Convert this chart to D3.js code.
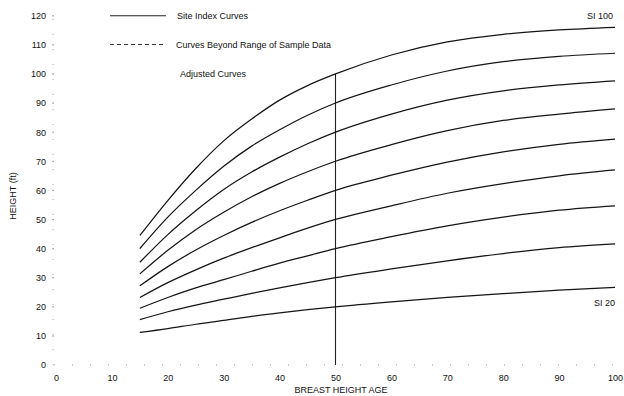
<!DOCTYPE html>
<html>
<head>
<meta charset="utf-8">
<script src="https://cdn.jsdelivr.net/npm/d3@7/dist/d3.min.js"></script>
<style>
  html, body { margin: 0; padding: 0; background: #fff; }
  svg { display: block; }
  text { font-family: "Liberation Sans", Arial, sans-serif; font-size: 9px; fill: #111; }
</style>
</head>
<body>
<svg id="chart" width="624" height="396"></svg>
<script>
// Breast height age (years) at which heights are tabulated
const ages = [15, 20, 25, 30, 35, 40, 45, 50, 60, 70, 80, 90, 100];

// Site index classes (height at breast height age 50)
const siteIndex = [100, 90, 80, 70, 60, 50, 40, 30, 20];

// Height (ft) for each site index curve, one value per age above
const si100 = [44.5, 56.5, 67.5, 77.0, 84.5, 91.0, 96.0, 100, 106.5, 111.0, 113.6, 115.1, 116.0];
const si90  = [40.0, 50.8, 60.0, 68.3, 75.2, 80.8, 85.8, 90, 96.2, 101.0, 104.2, 106.0, 107.1];
const si80  = [35.3, 44.8, 53.0, 60.3, 66.3, 71.4, 76.0, 80, 86.2, 91.0, 94.2, 96.2, 97.6];
const si70  = [31.3, 39.4, 46.5, 52.5, 57.8, 62.4, 66.4, 70, 75.7, 80.5, 84.0, 86.2, 88.0];
const si60  = [27.2, 33.8, 39.5, 44.5, 49.0, 53.0, 56.6, 60, 65.2, 69.7, 73.2, 75.8, 77.6];
const si50  = [23.2, 28.3, 32.7, 36.7, 40.3, 43.7, 47.0, 50, 54.7, 59.0, 62.3, 65.0, 67.0];
const si40  = [19.5, 23.2, 26.5, 29.3, 32.2, 35.0, 37.5, 40, 44.1, 47.8, 50.8, 53.2, 54.7];
const si30  = [15.6, 18.3, 20.6, 22.6, 24.6, 26.5, 28.3, 30, 33.0, 35.8, 38.3, 40.3, 41.6];
const si20  = [11.2, 12.5, 14.0, 15.3, 16.7, 17.9, 19.0, 20, 21.7, 23.2, 24.5, 25.7, 26.7];

const curves = [si100, si90, si80, si70, si60, si50, si40, si30, si20];

// Axis ticks
const xTicks = [0, 10, 20, 30, 40, 50, 60, 70, 80, 90, 100];
const yTicks = [0, 10, 20, 30, 40, 50, 60, 70, 80, 90, 100, 110, 120];

// Reference age for site index
const referenceAge = 50;

// Legend entries
const legendItems = ["Site Index Curves", "Curves Beyond Range of Sample Data", "Adjusted Curves"];

const svg = d3.select("#chart");

const x = d3.scaleLinear().domain([0, 100]).range([56, 615]);
const y = d3.scaleLinear().domain([0, 120]).range([365, 15.7]);

// Faint dotted axes, as on the printed sheet
svg.append("line")
  .attr("x1", x(0) - 2).attr("x2", x(100))
  .attr("y1", y(0)).attr("y2", y(0))
  .attr("stroke", "#999").attr("stroke-width", 1)
  .attr("stroke-dasharray", "1,17");
svg.append("line")
  .attr("x1", 53).attr("x2", 53)
  .attr("y1", y(0)).attr("y2", y(120))
  .attr("stroke", "#aaa").attr("stroke-width", 1)
  .attr("stroke-dasharray", "1,14");

// X axis labels
const xAxis = d3.axisBottom(x).tickValues(xTicks).tickSize(0).tickPadding(0);
const gx = svg.append("g").attr("transform", "translate(0,375)").call(xAxis);
gx.select(".domain").remove();
gx.selectAll("text").attr("dy", "0.71em")
  .style("font-family", '"Liberation Sans", Arial, sans-serif').style("font-size", "9px").attr("fill", "#111");

// Y axis labels with small dot ticks
const yAxis = d3.axisLeft(y).tickValues(yTicks).tickSize(0).tickPadding(0);
const gy = svg.append("g").attr("transform", "translate(46,0)").call(yAxis);
gy.select(".domain").remove();
gy.selectAll("text").attr("dy", "0.32em")
  .style("font-family", '"Liberation Sans", Arial, sans-serif').style("font-size", "9px").attr("fill", "#111");
svg.append("g").selectAll("rect").data(yTicks.slice(1)).join("rect")
  .attr("x", 52.5).attr("y", d => y(d) - 0.5)
  .attr("width", 1.2).attr("height", 1.2)
  .attr("fill", "#777");

// Axis titles
svg.append("text")
  .attr("x", 341).attr("y", 393)
  .attr("text-anchor", "middle")
  .text("BREAST HEIGHT AGE");
svg.append("text")
  .attr("transform", "translate(16,196) rotate(-90)")
  .attr("text-anchor", "middle")
  .text("HEIGHT (ft)");

// Reference-age line at age 50, up to the highest curve
const topAt50 = si100[ages.indexOf(referenceAge)];
svg.append("line")
  .attr("x1", x(referenceAge)).attr("x2", x(referenceAge))
  .attr("y1", y(0)).attr("y2", y(topAt50))
  .attr("stroke", "#222").attr("stroke-width", 1.1);

// Site index curves
const line = d3.line()
  .x((d, i) => x(ages[i]))
  .y(d => y(d))
  .curve(d3.curveMonotoneX);

svg.append("g").selectAll("path").data(curves).join("path")
  .attr("d", line)
  .attr("fill", "none")
  .attr("stroke", "#151515")
  .attr("stroke-width", 1.25);

// Curve end labels
svg.append("text")
  .attr("x", 613).attr("y", 18.5)
  .attr("text-anchor", "end")
  .text("SI " + siteIndex[0]);
svg.append("text")
  .attr("x", 615).attr("y", 306)
  .attr("text-anchor", "end")
  .text("SI " + siteIndex[siteIndex.length - 1]);

// Legend
const legend = svg.append("g");
legend.append("line")
  .attr("x1", 110).attr("x2", 166).attr("y1", 15.7).attr("y2", 15.7)
  .attr("stroke", "#222").attr("stroke-width", 1.1);
legend.append("line")
  .attr("x1", 110).attr("x2", 166).attr("y1", 44.5).attr("y2", 44.5)
  .attr("stroke", "#333").attr("stroke-width", 1.1)
  .attr("stroke-dasharray", "4,3");
legend.append("text").attr("x", 177).attr("y", 19).text(legendItems[0]);
legend.append("text").attr("x", 176).attr("y", 48).text(legendItems[1]);
legend.append("text").attr("x", 180).attr("y", 77).text(legendItems[2]);
</script>
</body>
</html>
